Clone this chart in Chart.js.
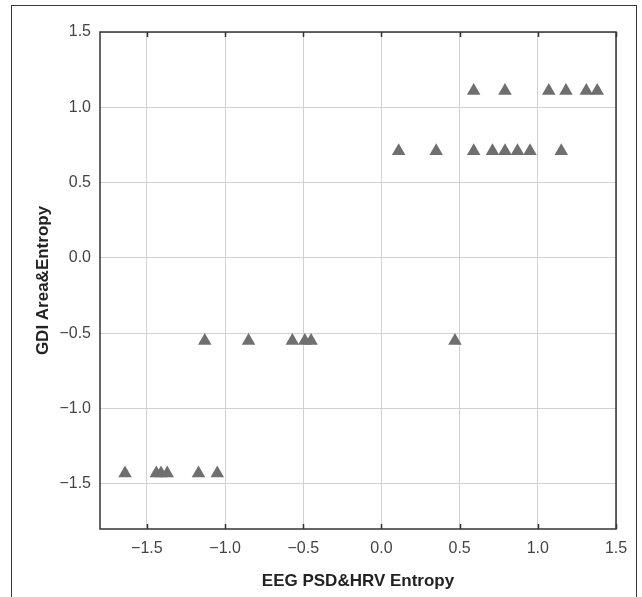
<!DOCTYPE html>
<html lang="en">
<head>
  <meta charset="UTF-8" />
  <title>GDI vs EEG PSD&amp;HRV Entropy</title>
  <script src="https://cdn.jsdelivr.net/npm/chart.js"></script>
  <style>
    body { margin: 0; background: #fff; }
    .wrap { position: relative; width: 642px; height: 597px; overflow: hidden; }
    .frame {
      position: absolute; left: 11px; top: 5px; width: 626px; height: 640px;
      border: 1.5px solid #3a3a3a; box-sizing: border-box; pointer-events: none;
    }
  </style>
</head>
<body>
  <div class="wrap">
    <canvas id="scatter"></canvas>
    <div class="frame"></div>
  </div>

  <script>
    // EEG PSD&HRV entropy (x) against GDI area&entropy (y), one entry per subject
    const xValues = [
      0.59, 0.79, 1.07, 1.18, 1.31, 1.38,
      0.11, 0.35, 0.59, 0.71, 0.79, 0.87, 0.95, 1.15,
      -1.13, -0.85, -0.57, -0.49, -0.45, 0.47,
      -1.64, -1.44, -1.41, -1.37, -1.17, -1.05
    ];
    const yValues = [
      1.11, 1.11, 1.11, 1.11, 1.11, 1.11,
      0.71, 0.71, 0.71, 0.71, 0.71, 0.71, 0.71, 0.71,
      -0.55, -0.55, -0.55, -0.55, -0.55, -0.55,
      -1.43, -1.43, -1.43, -1.43, -1.43, -1.43
    ];
    const xTicks = [-1.5, -1.0, -0.5, 0.0, 0.5, 1.0, 1.5];
    const yTicks = [-1.5, -1.0, -0.5, 0.0, 0.5, 1.0, 1.5];

    const points = xValues.map((x, i) => ({ x: x, y: yValues[i] }));
    const fmt = v => (v < 0 ? '\u2212' : '') + Math.abs(v).toFixed(1);

    // box around the plot plus short inward ticks on top and bottom edges
    const plotBox = {
      id: 'plotBox',
      afterDraw(chart) {
        const { ctx, chartArea: a, scales } = chart;
        ctx.save();
        ctx.strokeStyle = '#333';
        ctx.lineWidth = 1.5;
        ctx.beginPath();
        xTicks.forEach(v => {
          const px = Math.round(scales.x.getPixelForValue(v)) + 0.5;
          ctx.moveTo(px, a.top);
          ctx.lineTo(px, a.top + 5);
          ctx.moveTo(px, a.bottom);
          ctx.lineTo(px, a.bottom - 5);
        });
        ctx.stroke();
        ctx.strokeRect(a.left, a.top, a.right - a.left, a.bottom - a.top);
        ctx.restore();
      }
    };

    const tickFont = { family: '"Liberation Sans", Arial, sans-serif', size: 16 };
    const titleFont = { family: '"Liberation Sans", Arial, sans-serif', size: 17, weight: 'bold' };

    new Chart(document.getElementById('scatter'), {
      type: 'scatter',
      data: {
        datasets: [{
          data: points,
          pointStyle: 'triangle',
          pointRadius: 7.8,
          pointHoverRadius: 7.8,
          backgroundColor: '#6f6f6f',
          borderWidth: 0
        }]
      },
      options: {
        responsive: true,
        maintainAspectRatio: false,
        animation: false,
        events: [],
        layout: { padding: { left: 0, right: 26, top: 32, bottom: 0 } },
        plugins: { legend: { display: false }, tooltip: { enabled: false } },
        scales: {
          x: {
            type: 'linear',
            min: -1.8,
            max: 1.5,
            afterBuildTicks: s => { s.ticks = xTicks.map(v => ({ value: v })); },
            afterFit: s => { s.height = 68; },
            grid: { color: '#d0d0d0', lineWidth: 1, drawTicks: false },
            border: { display: false },
            ticks: { color: '#444', font: tickFont, padding: 10, callback: v => fmt(v), maxRotation: 0 },
            title: { display: true, text: 'EEG PSD&HRV Entropy', color: '#222', font: titleFont, padding: { top: 0, bottom: 5 } }
          },
          y: {
            type: 'linear',
            min: -1.8,
            max: 1.5,
            afterBuildTicks: s => { s.ticks = yTicks.map(v => ({ value: v })); },
            afterFit: s => { s.width = 100; },
            grid: { color: '#d0d0d0', lineWidth: 1, drawTicks: false },
            border: { display: false },
            ticks: { color: '#444', font: tickFont, padding: 9, callback: v => fmt(v) },
            title: { display: true, text: 'GDI Area&Entropy', color: '#222', font: titleFont, padding: { top: 33, bottom: 0 } }
          }
        }
      },
      plugins: [plotBox]
    });
  </script>
</body>
</html>
